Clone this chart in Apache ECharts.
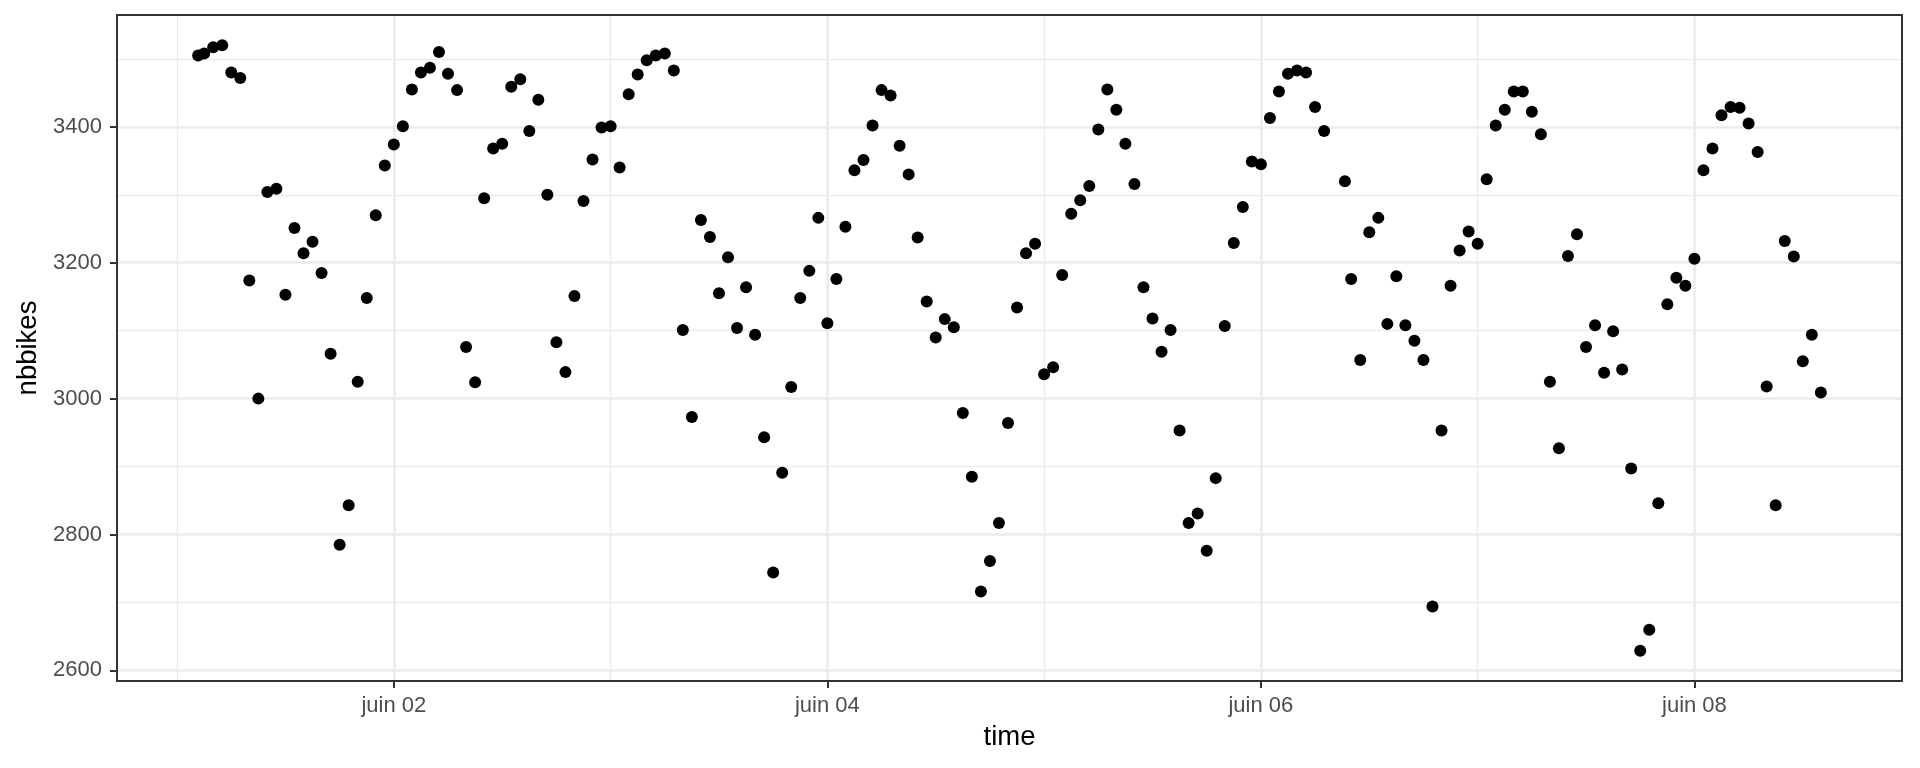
<!DOCTYPE html>
<html>
<head>
<meta charset="utf-8">
<script src="https://cdn.jsdelivr.net/npm/echarts@6/dist/echarts.min.js"></script>
<style>
html,body{margin:0;padding:0;background:#ffffff;}
#chart{width:1920px;height:768px;}
</style>
</head>
<body>
<div id="chart"></div>
<script>
// time stamps: "DD HH:MM" in June
const times = [
 '01 02:20','01 03:00','01 04:00','01 05:00','01 06:00','01 07:00','01 08:00','01 09:00','01 10:00','01 11:00','01 12:00','01 13:00','01 14:00','01 15:00','01 16:00','01 17:00','01 18:00','01 19:00','01 20:00','01 21:00','01 22:00','01 23:00',
 '02 00:00','02 01:00','02 02:00','02 03:00','02 04:00','02 05:00','02 06:00','02 07:00','02 08:00','02 09:00','02 10:00','02 11:00','02 12:00','02 13:00','02 14:00','02 15:00','02 16:00','02 17:00','02 18:00','02 19:00','02 20:00','02 21:00','02 22:00','02 23:00',
 '03 00:00','03 01:00','03 02:00','03 03:00','03 04:00','03 05:00','03 06:00','03 07:00','03 08:00','03 09:00','03 10:00','03 11:00','03 12:00','03 13:00','03 14:00','03 15:00','03 16:00','03 17:00','03 18:00','03 19:00','03 20:00','03 21:00','03 22:00','03 23:00',
 '04 00:00','04 01:00','04 02:00','04 03:00','04 04:00','04 05:00','04 06:00','04 07:00','04 08:00','04 09:00','04 10:00','04 11:00','04 12:00','04 13:00','04 14:00','04 15:00','04 16:00','04 17:00','04 18:00','04 19:00','04 20:00','04 21:00','04 22:00','04 23:00',
 '05 00:00','05 01:00','05 02:00','05 03:00','05 04:00','05 05:00','05 06:00','05 07:00','05 08:00','05 09:00','05 10:00','05 11:00','05 12:00','05 13:00','05 14:00','05 15:00','05 16:00','05 17:00','05 18:00','05 19:00','05 20:00','05 21:00','05 22:00','05 23:00',
 '06 00:00','06 01:00','06 02:00','06 03:00','06 04:00','06 05:00','06 06:00','06 07:00','06 09:18','06 10:00','06 11:00','06 12:00','06 13:00','06 14:00','06 15:00','06 16:00','06 17:00','06 18:00','06 19:00','06 20:00','06 21:00','06 22:00','06 23:00',
 '07 00:00','07 01:00','07 02:00','07 03:00','07 04:00','07 05:00','07 06:00','07 07:00','07 08:00','07 09:00','07 10:00','07 11:00','07 12:00','07 13:00','07 14:00','07 15:00','07 16:00','07 17:00','07 18:00','07 19:00','07 20:00','07 21:00','07 22:00','07 23:00',
 '08 00:00','08 01:00','08 02:00','08 03:00','08 04:00','08 05:00','08 06:00','08 07:00','08 08:00','08 09:00','08 10:00','08 11:00','08 12:00','08 13:00','08 14:00'
];
const nbbikes = [
 3505,3508,3517,3520,3480,3472,3174,3000,3304,3309,3153,3251,3214,3231,3185,3066,2785,2843,3025,3148,3270,3343,
 3374,3401,3455,3480,3487,3510,3478,3454,3076,3024,3295,3368,3375,3459,3470,3394,3440,3300,3083,3039,3151,3291,3352,3399,
 3401,3340,3448,3477,3498,3505,3508,3483,3101,2973,3263,3238,3155,3208,3104,3164,3094,2943,2744,2891,3017,3148,3188,3266,
 3111,3176,3253,3336,3351,3402,3454,3446,3372,3330,3237,3143,3090,3117,3105,2979,2885,2716,2761,2817,2964,3134,3214,3228,
 3036,3046,3182,3272,3292,3313,3396,3455,3425,3375,3316,3164,3118,3069,3101,2953,2817,2831,2776,2883,3107,3229,3282,3349,
 3345,3413,3452,3478,3483,3480,3429,3394,3320,3176,3057,3245,3266,3110,3180,3108,3085,3057,2694,2953,3166,3218,3246,
 3228,3323,3402,3425,3452,3452,3422,3389,3025,2927,3210,3242,3076,3108,3038,3099,3043,2897,2629,2660,2846,3139,3178,3166,
 3206,3336,3368,3417,3429,3428,3405,3363,3018,2843,3232,3209,3055,3094,3009
];
const xMajorTicks = ['02 00:00','04 00:00','06 00:00','08 00:00'];
const xMinorTicks = ['01 00:00','03 00:00','05 00:00','07 00:00'];
const yMajorTicks = [2600,2800,3000,3200,3400];
const yMinorTicks = [2700,2900,3100,3300,3500];
const xTitle = 'time';
const yTitle = 'nbbikes';

function toMs(s){
  const [d, hm] = s.split(' ');
  const [h, m] = hm.split(':').map(Number);
  return Date.UTC(2016, 5, Number(d), h, m);
}
const xs = times.map(toMs);
const data = xs.map((x,i)=>[x, nbbikes[i]]);
const xMin0 = Math.min(...xs), xMax0 = Math.max(...xs);
const yMin0 = Math.min(...nbbikes), yMax0 = Math.max(...nbbikes);
const xPad = (xMax0-xMin0)*0.05, yPad = (yMax0-yMin0)*0.05;
const xLim = [xMin0-xPad, xMax0+xPad];
const yLim = [yMin0-yPad, yMax0+yPad];

const GRID = '#EBEBEB';
const DARK = '#333333';
const FONT = 'Liberation Sans, Arial, Helvetica, sans-serif';

const gridLines = [];
xMinorTicks.forEach(t=>gridLines.push({xAxis: toMs(t), lineStyle:{color:GRID, width:1.3, type:'solid'}}));
yMinorTicks.forEach(v=>gridLines.push({yAxis: v, lineStyle:{color:GRID, width:1.3, type:'solid'}}));
xMajorTicks.forEach(t=>gridLines.push({xAxis: toMs(t), lineStyle:{color:GRID, width:2.6, type:'solid'}}));
yMajorTicks.forEach(v=>gridLines.push({yAxis: v, lineStyle:{color:GRID, width:2.6, type:'solid'}}));

const chart = echarts.init(document.getElementById('chart'), null, {renderer:'canvas'});
const pad2 = n => (n<10?'0':'')+n;
chart.setOption({
  animation: false,
  backgroundColor: '#ffffff',
  grid: {left:117, right:18, top:15, bottom:87, show:false},
  xAxis: [{
    type:'value', min:xLim[0], max:xLim[1], z:3,
    name: xTitle, nameLocation:'middle', nameGap:42,
    nameTextStyle:{color:'#000000', fontSize:27.5, fontFamily:FONT},
    axisLine:{show:true, onZero:false, lineStyle:{color:DARK, width:2}},
    axisTick:{show:true, length:7, customValues:xMajorTicks.map(toMs), lineStyle:{color:DARK, width:2}},
    axisLabel:{show:true, margin:14, customValues:xMajorTicks.map(toMs), color:'#4D4D4D', fontSize:22, fontFamily:FONT,
      formatter: v => 'juin ' + pad2(new Date(v).getUTCDate())},
    splitLine:{show:false}
  },{
    type:'value', position:'top', min:xLim[0], max:xLim[1], z:3,
    axisLine:{show:true, onZero:false, lineStyle:{color:DARK, width:2}},
    axisTick:{show:false}, axisLabel:{show:false}, splitLine:{show:false}
  }],
  yAxis: [{
    type:'value', min:yLim[0], max:yLim[1], z:3,
    name: yTitle, nameLocation:'middle', nameGap:73, nameRotate:90,
    nameTextStyle:{color:'#000000', fontSize:27.5, fontFamily:FONT},
    axisLine:{show:true, onZero:false, lineStyle:{color:DARK, width:2}},
    axisTick:{show:true, length:7, customValues:yMajorTicks, lineStyle:{color:DARK, width:2}},
    axisLabel:{show:true, margin:15, customValues:yMajorTicks, color:'#4D4D4D', fontSize:22, fontFamily:FONT,
      formatter: v => String(Math.round(v))},
    splitLine:{show:false}
  },{
    type:'value', position:'right', min:yLim[0], max:yLim[1], z:3,
    axisLine:{show:true, onZero:false, lineStyle:{color:DARK, width:2}},
    axisTick:{show:false}, axisLabel:{show:false}, splitLine:{show:false}
  }],
  series: [{
    type:'scatter', xAxisIndex:0, yAxisIndex:0, z:2,
    data: data,
    symbol:'circle', symbolSize:12,
    itemStyle:{color:'#000000', opacity:1},
    silent:true,
    markLine:{
      silent:true, z:1, symbol:['none','none'], label:{show:false},
      emphasis:{disabled:true}, animation:false,
      data: gridLines
    }
  }]
});
</script>
</body>
</html>
